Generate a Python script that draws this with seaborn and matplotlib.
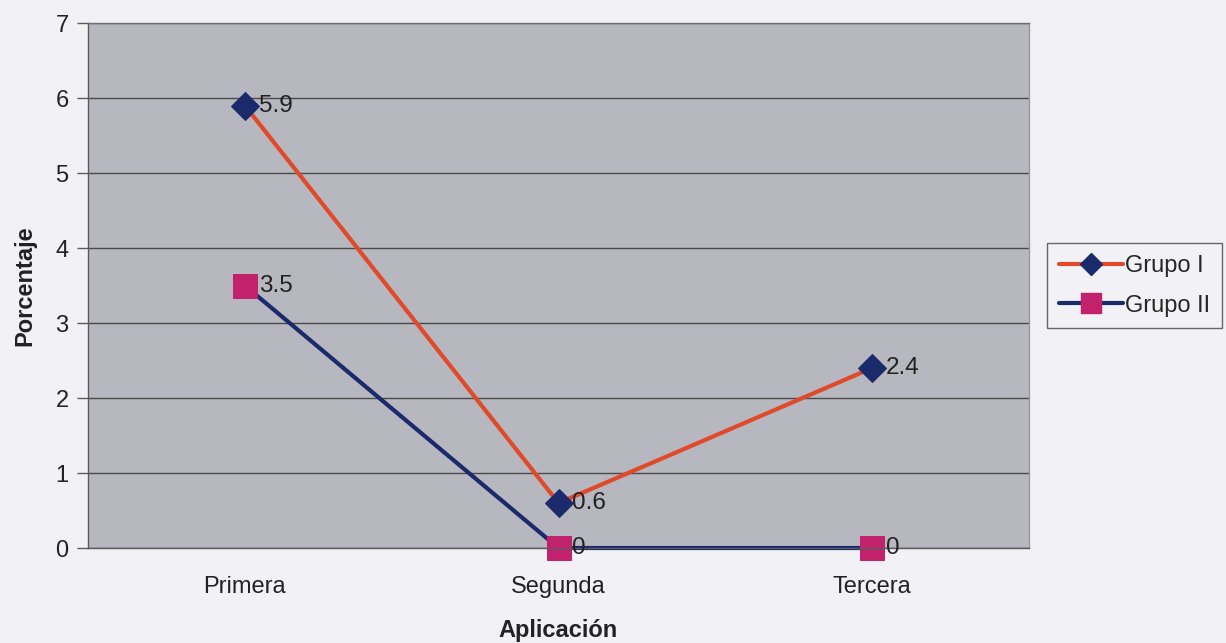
import matplotlib
matplotlib.use("Agg")
import matplotlib.pyplot as plt
import seaborn as sns
import pandas as pd
from matplotlib.lines import Line2D

sns.set_theme(style="white")
plt.rcParams['font.family'] = ['Liberation Sans', 'DejaVu Sans']

categories = ["Primera", "Segunda", "Tercera"]
grupo_1 = [5.9, 0.6, 2.4]
grupo_2 = [3.5, 0.0, 0.0]
y_ticks = [0, 1, 2, 3, 4, 5, 6, 7]

df = pd.DataFrame({"Aplicación": categories * 2,
                   "Porcentaje": grupo_1 + grupo_2,
                   "Grupo": ["Grupo I"] * 3 + ["Grupo II"] * 3})

fig = plt.figure(figsize=(12.26, 6.43), dpi=100, facecolor="#f2f2f6")
ax = fig.add_axes([0.0718, 0.1477, 0.7675, 0.8165])
ax.set_facecolor("#b7b7bf")

red = "#e04a2a"
navy = "#1b2a6b"
magenta = "#c2216b"
text_col = "#222222"

styles = {
    "Grupo I": dict(line=red, marker="D", face=navy, size=14),
    "Grupo II": dict(line=navy, marker="s", face=magenta, size=17),
}

for name, st in styles.items():
    sub = df[df["Grupo"] == name]
    sns.lineplot(data=sub, x="Aplicación", y="Porcentaje", ax=ax,
                 color=st["line"], linewidth=3, marker=st["marker"],
                 markersize=st["size"], markerfacecolor=st["face"],
                 markeredgecolor=st["face"], zorder=3 if name == "Grupo I" else 2,
                 clip_on=False)
    for i, v in enumerate(sub["Porcentaje"]):
        ax.annotate(f"{v:g}", (i, v), xytext=(10, 0), textcoords="offset points",
                    va="center", ha="left", fontsize=17.5, color=text_col,
                    zorder=5)

ax.set_xlim(-0.5, 2.5)
ax.set_ylim(0, 7)
ax.set_yticks(y_ticks)
ax.yaxis.grid(True, color="#4a4a4a", linewidth=1)
ax.set_axisbelow(True)
for s in ax.spines.values():
    s.set_color("#5a5a5a")
    s.set_linewidth(1)
ax.spines["top"].set_color("#707070")
ax.spines["right"].set_color("#9a9a9a")

ax.tick_params(axis="y", left=True, length=8, width=1, color="#5a5a5a",
               labelsize=17, labelcolor=text_col, pad=6)
ax.tick_params(axis="x", bottom=False, labelsize=17, labelcolor=text_col, pad=14)

ax.set_xlabel("Aplicación", fontsize=17, fontweight="bold", color=text_col, labelpad=15)
ax.set_ylabel("Porcentaje", fontsize=17, fontweight="bold", color=text_col, labelpad=14)

handles = [Line2D([], [], color=st["line"], linewidth=3, marker=st["marker"],
                  markersize=st["size"] - 3, markerfacecolor=st["face"],
                  markeredgecolor=st["face"]) for st in styles.values()]
leg = fig.legend(handles, list(styles.keys()), loc="upper left",
                 bbox_to_anchor=(1047 / 1226, 1 - 243 / 643), borderaxespad=0,
                 frameon=True, fontsize=17, handlelength=2.7, handletextpad=0.1,
                 borderpad=0.5, labelspacing=0.75, fancybox=False)
leg.get_frame().set_edgecolor("#444444")
leg.get_frame().set_facecolor("#f2f2f6")
leg.get_frame().set_linewidth(1)

fig.savefig("out.png", dpi=100, facecolor=fig.get_facecolor())
